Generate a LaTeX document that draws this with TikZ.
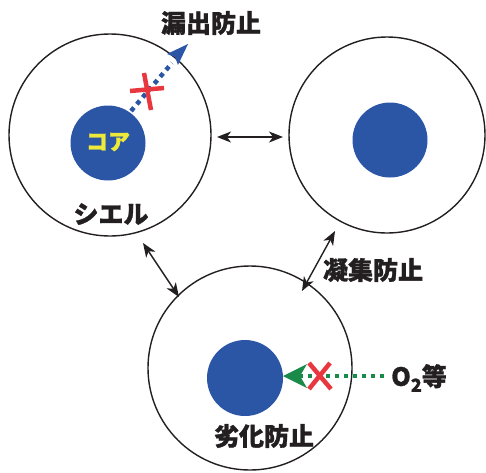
\documentclass[tikz,border=0pt]{standalone}
\usepackage{fontspec}
\newfontfamily\jp{Noto Sans CJK JP}[BoldFeatures={FakeBold=1.2}]
\usetikzlibrary{arrows.meta}
\definecolor{coreblue}{HTML}{2A56A5}
\definecolor{dotgreen}{HTML}{1A8A4A}
\definecolor{xred}{HTML}{E8373F}
\definecolor{txt}{HTML}{231F20}
\definecolor{koreyel}{HTML}{EDE83A}
\tikzset{
  shell/.style={circle, draw=txt, line width=1.4pt, minimum size=#1, inner sep=0pt},
  core/.style={circle, fill=coreblue, minimum size=#1, inner sep=0pt},
  lbl/.style={font=\jp\bfseries\fontsize{25}{27}\selectfont, text=txt, inner sep=0pt},
  dbl/.style={line width=1.4pt, draw=txt, {Stealth[length=14pt,width=11pt,inset=4pt]}-{Stealth[length=14pt,width=11pt,inset=4pt]}},
  xmark/.style={draw=xred, line width=4.5pt},
  dots/.style={line width=4.5pt, dash pattern=on 4.5pt off 4.5pt}
}
\begin{document}
\begin{tikzpicture}[x=1pt,y=-1pt]
\useasboundingbox (0,0) rectangle (486,472);
% shells
\node[shell=202pt] (s1) at (110,135) {};
\node[shell=196pt] (s2) at (387,135) {};
\node[shell=204pt] (s3) at (250,368) {};
% cores
\node[core=75pt] (c1) at (108,143) {};
\node[core=75pt] (c2) at (390,140) {};
\node[core=76pt] (c3) at (245,378) {};
% labels
\node[lbl, text=koreyel, font=\jp\bfseries\fontsize{22}{24}\selectfont] (kore) at (108,142) {コア};
\node[lbl] (shel) at (111,214) {シエル};
\node[lbl] (leak) at (211,23) {漏出防止};
\node[lbl] (agg) at (373,270) {凝集防止};
\node[lbl] (deg) at (264,436) {劣化防止};
\node[lbl, anchor=west] (o2) at (391,378) {O\raisebox{-6pt}{\fontsize{18}{18}\selectfont 2}等};
% double arrows
\coordinate (a1) at (217,137); \coordinate (a2) at (283,137);
\draw[dbl] (a1) -- (a2);
\coordinate (b1) at (143,243); \coordinate (b2) at (179,297);
\draw[dbl] (b1) -- (b2);
\coordinate (d1) at (335,231); \coordinate (d2) at (302,291);
\draw[dbl] (d1) -- (d2);
% leak arrow
\coordinate (l1) at (131,111); \coordinate (l2) at (172,63); \coordinate (l3) at (188,44);
\draw[dots, coreblue] (l1) -- (l2);
\fill[coreblue] (l3) -- (167,54) -- (175,57) -- (178,65) -- cycle;
% red X on leak
\draw[xmark] (130,91) -- (164,88);
\draw[xmark] (144,73) -- (151,110);
% green arrow
\coordinate (g1) at (384,376); \coordinate (g2) at (300,376);
\draw[dots, dotgreen] (g1) -- (g2);
\fill[dotgreen] (283,376) -- (307,364) -- (300,376) -- (307,388) -- cycle;
% red X on green
\draw[xmark] (309,363) -- (331,389);
\draw[xmark] (330,363) -- (309,389);
\end{tikzpicture}
\end{document}
